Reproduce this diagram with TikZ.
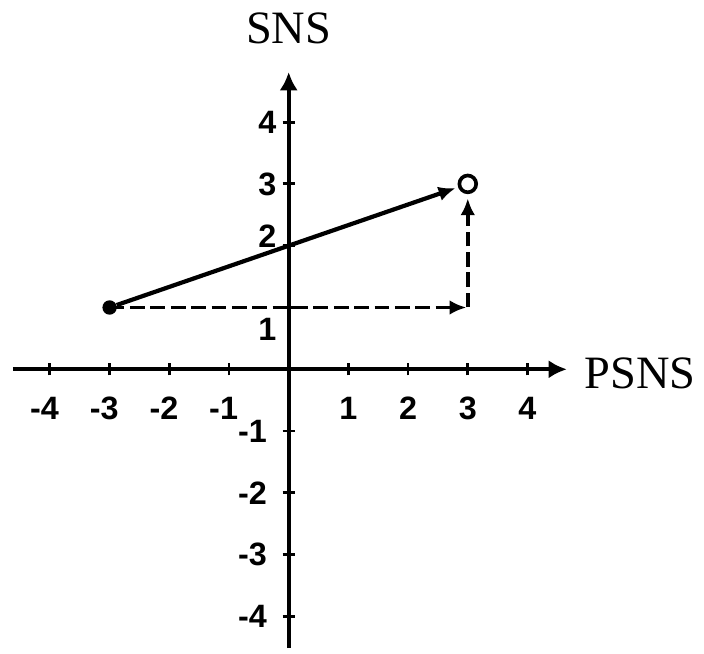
\documentclass[tikz,border=0pt]{standalone}
\usepackage{fontspec}
\setmainfont{Liberation Serif}
\newfontfamily\ticksfont{Liberation Sans}
\usepackage{tikz}
\usetikzlibrary{arrows.meta, positioning}

\begin{document}
\begin{tikzpicture}[x=1.4925cm, y=1.545cm]
\tikzstyle{axis} = [draw, line width=3pt, -{Latex[length=13pt, width=13pt]}]
\tikzstyle{tick} = [draw, line width=2pt]
\tikzstyle{num} = [inner sep=0pt, font=\ticksfont\bfseries\fontsize{23}{27}\selectfont]
\tikzstyle{title} = [inner sep=0pt, font=\fontsize{33}{40}\selectfont]
\tikzstyle{line} = [draw, line width=3pt, -{Latex[length=12pt, width=10.5pt]}]
\tikzstyle{dashline} = [draw, line width=2.6pt, dash pattern=on 10.5pt off 4pt, -{Latex[length=12pt, width=10.5pt]}]

\useasboundingbox (-4.836,-4.591) rectangle (6.957,5.976);

% axes
\coordinate (xstart) at (-4.62,0);
\coordinate (xend) at (4.66,0);
\coordinate (ystart) at (0,-4.51);
\coordinate (yend) at (0,4.81);
\draw [axis] (xstart) -- (xend);
\draw [axis] (ystart) -- (yend);
\node [title] (psns) at (5.89,-0.06) {PSNS};
\node [title] (sns) at (0,5.52) {SNS};

% ticks and numbers
\foreach \i in {1,...,4} {
  \draw [tick] (\i,0) ++(0,-0.15cm) -- ++(0,0.3cm);
  \draw [tick] (-\i,0) ++(0,-0.15cm) -- ++(0,0.3cm);
  \draw [tick] (0,\i) ++(-0.15cm,0) -- ++(0.3cm,0);
  \draw [tick] (0,-\i) ++(-0.15cm,0) -- ++(0.3cm,0);
  \node [num] (xpos\i) at (\i,-0.63) {\i};
  \node [num] (xneg\i) at (-\i,-0.63) {\llap{-}\i};
  \node [num, anchor=east] (yneg\i) at (-0.36,-\i) {-\i};
}
\node [num, anchor=east] (ypos4) at (-0.2,4) {4};
\node [num, anchor=east] (ypos3) at (-0.2,3) {3};
\node [num, anchor=east] (ypos2) at (-0.2,2.16) {2};
\node [num, anchor=east] (ypos1) at (-0.2,0.65) {1};

% shift from start to end
\coordinate (corner) at (3,1);
\node [circle, draw, line width=2.6pt, minimum size=0.42cm, inner sep=0pt] (dst) at (3,3) {};
\draw [dashline, shorten >=1pt] (-3,1) -- (corner);
\draw [dashline, shorten >=3pt] (corner) -- (dst);
\node [circle, fill, minimum size=0.36cm, inner sep=0pt] (src) at (-3,1) {};
\draw [line, shorten >=2pt] (src) -- (dst);
\end{tikzpicture}
\end{document}
